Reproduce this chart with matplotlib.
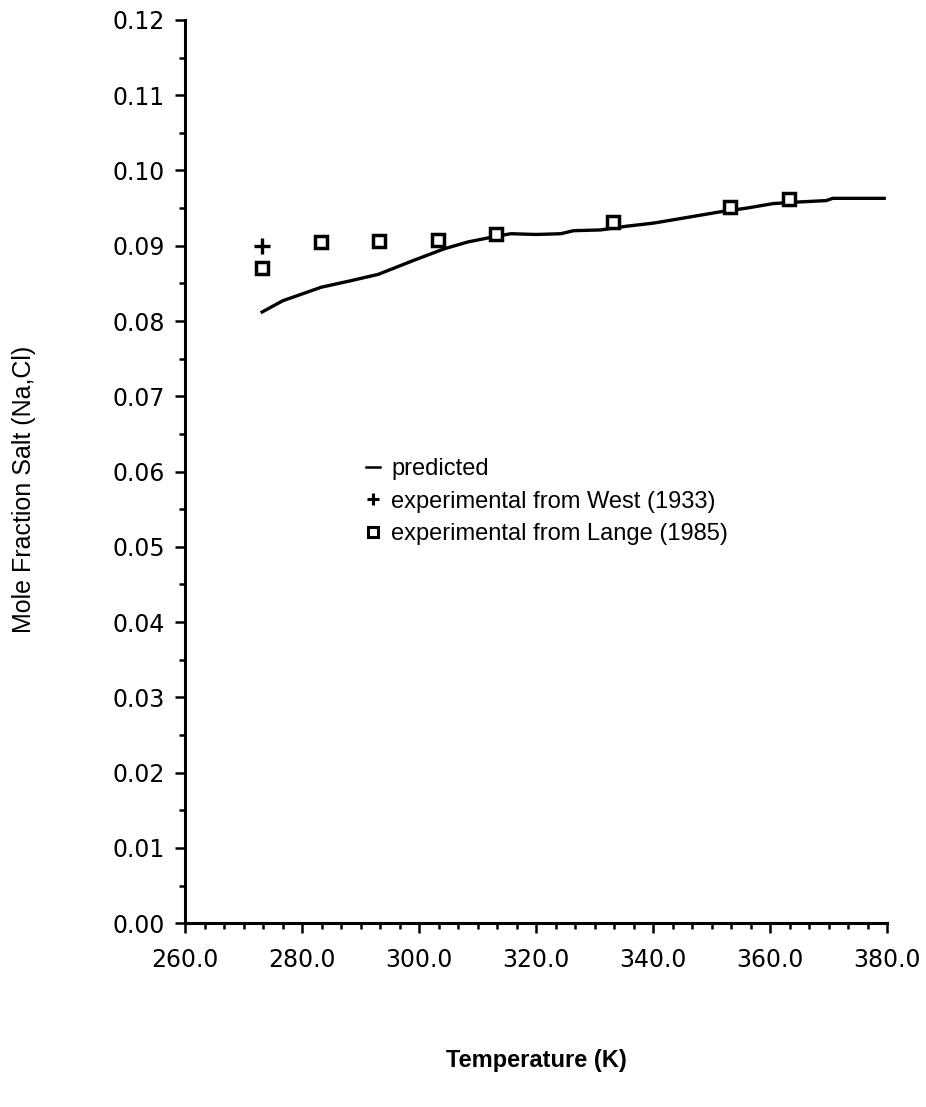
import matplotlib
matplotlib.use('Agg')
import matplotlib.pyplot as plt
from matplotlib.ticker import MultipleLocator, AutoMinorLocator, FormatStrFormatter
from matplotlib.lines import Line2D

plt.rcParams['font.family'] = ['Liberation Sans', 'DejaVu Sans']

# predicted solubility curve
pred_T = [273.15, 276.7, 280.0, 283.3, 288.0, 293.0, 299.2, 304.3, 308.3, 312.8,
          315.7, 320.0, 324.2, 326.4, 331.0, 335.5, 340.0, 344.6, 351.4, 356.0,
          360.5, 364.5, 369.6, 370.7, 375.0, 379.5]
pred_x = [0.0812, 0.0827, 0.0836, 0.0845, 0.0853, 0.0862, 0.0881, 0.0896, 0.0905, 0.0912,
          0.0916, 0.0915, 0.0916, 0.0920, 0.0921, 0.0926, 0.0930, 0.0936, 0.0945, 0.0950,
          0.0956, 0.0958, 0.0960, 0.0963, 0.0963, 0.0963]

# experimental points
west_T = [273.15]
west_x = [0.0900]
lange_T = [273.15, 283.15, 293.15, 303.15, 313.15, 333.15, 353.15, 363.15]
lange_x = [0.0870, 0.0905, 0.0906, 0.0908, 0.0916, 0.0931, 0.0951, 0.0962]

fig = plt.figure(figsize=(9.26, 11.07), dpi=100)
ax = fig.add_axes([0.200, 0.166, 0.758, 0.816])

ax.plot(pred_T, pred_x, 'k-', lw=2.4)
ax.plot(west_T, west_x, 'k+', ms=11, mew=2.4)
ax.plot(lange_T, lange_x, 'ks', ms=8.5, mfc='white', mew=2.5)

ax.set_xlim(260, 380)
ax.set_ylim(0, 0.12)

ax.xaxis.set_major_locator(MultipleLocator(20))
ax.xaxis.set_minor_locator(AutoMinorLocator(6))
ax.xaxis.set_major_formatter(FormatStrFormatter('%.1f'))
ax.yaxis.set_major_locator(MultipleLocator(0.01))
ax.yaxis.set_minor_locator(AutoMinorLocator(2))
ax.yaxis.set_major_formatter(FormatStrFormatter('%.2f'))

for s in ['top', 'right']:
    ax.spines[s].set_visible(False)
for s in ['left', 'bottom']:
    ax.spines[s].set_linewidth(2.2)

ax.tick_params(which='major', direction='out', length=7.5, width=1.8)
ax.tick_params(axis='y', which='major', pad=7)
ax.tick_params(axis='x', which='major', pad=10)
ax.tick_params(which='minor', direction='out', length=4, width=1.8)
for lab in ax.get_xticklabels() + ax.get_yticklabels():
    lab.set_family('DejaVu Sans')
    lab.set_fontsize(17)

ax.set_xlabel('Temperature (K)', fontsize=17, fontweight='bold', labelpad=56)
ax.set_ylabel('Mole Fraction Salt (Na,Cl)', fontsize=18)
ax.yaxis.set_label_coords(-0.213, 0.48)

# legend keys in front of the text, as in the original
handles = [
    Line2D([], [], color='k', lw=1.8),
    Line2D([], [], color='k', marker='+', ls='', ms=9, mew=2.2),
    Line2D([], [], color='k', marker='s', ls='', ms=7, mfc='white', mew=2.2),
]
labels = ['predicted', 'experimental from West (1933)', 'experimental from Lange (1985)']
ax.legend(handles, labels, loc='upper left', bbox_to_anchor=(0.258, 0.515),
          frameon=False, fontsize=17, handlelength=0.6, handletextpad=0.45,
          labelspacing=0.45, borderpad=0, borderaxespad=0)

fig.savefig('out.png', dpi=100)
